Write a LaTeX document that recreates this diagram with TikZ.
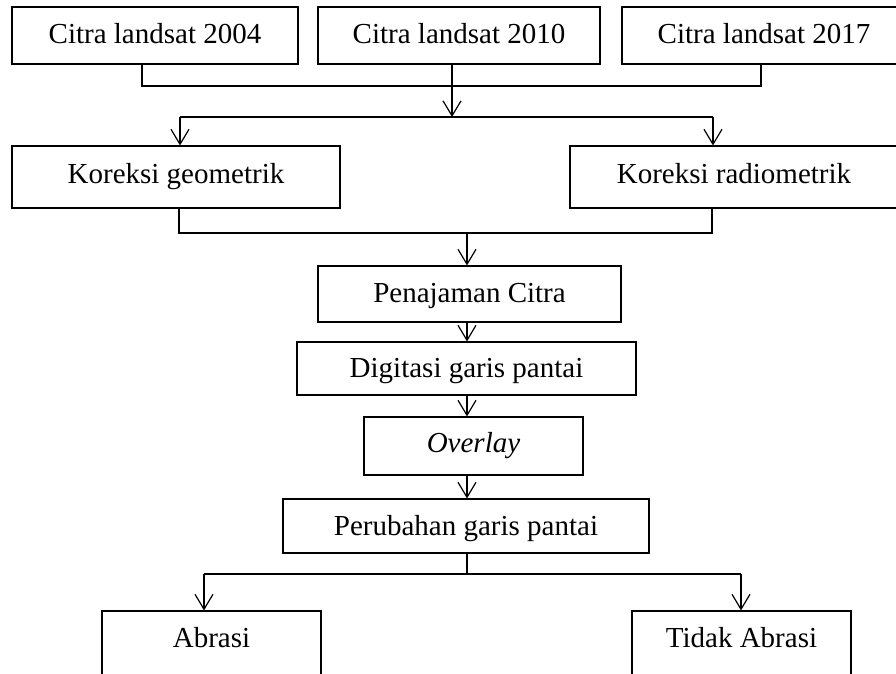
\documentclass[tikz,border=0pt]{standalone}
\usepackage{fontspec}
\setmainfont{Liberation Serif}
\usetikzlibrary{arrows.meta}
\begin{document}
\begin{tikzpicture}[x=1pt,y=-1pt,
  box/.style={draw, line width=1.1pt, inner xsep=0pt, inner ysep=0pt, anchor=base, align=center, font=\fontsize{29}{34}\selectfont},
  link/.style={line width=1.2pt},
  arr/.style={line width=1.2pt, -{Straight Barb[length=15pt,width=18pt]}}]
\path[use as bounding box, clip] (0,0) rectangle (896,673);
% top row
\node[box, minimum width=286pt, text height=36pt, text depth=21pt] (c04) at (155,43) {Citra landsat 2004};
\node[box, minimum width=282pt, text height=36pt, text depth=21pt] (c10) at (459,43) {Citra landsat 2010};
\node[box, minimum width=284pt, text height=36pt, text depth=21pt] (c17) at (764,43) {Citra landsat 2017};
% corrections
\node[box, minimum width=328pt, text height=37pt, text depth=25pt] (kg) at (176,183) {Koreksi geometrik};
\node[box, minimum width=328pt, text height=37pt, text depth=25pt] (kr) at (734,183) {Koreksi radiometrik};
% chain
\node[box, minimum width=303pt, text height=36pt, text depth=20pt] (pc) at (469.5,302) {Penajaman Citra};
\node[box, minimum width=339pt, text height=35pt, text depth=18pt] (dg) at (466.5,377) {Digitasi garis pantai};
\node[box, minimum width=219pt, text height=35pt, text depth=23pt] (ov) at (473.5,452) {\textit{Overlay}};
\node[box, minimum width=366pt, text height=36pt, text depth=18pt] (pg) at (466,535) {Perubahan garis pantai};
% results
\node[box, minimum width=219pt, text height=36pt, text depth=45pt] (ab) at (211.5,647) {Abrasi};
\node[box, minimum width=219pt, text height=36pt, text depth=45pt] (ta) at (741.5,647) {Tidak Abrasi};
% bus 1
\coordinate (b1l) at (142,86);
\coordinate (b1r) at (761,86);
\draw[link] (c04.south -| b1l) -- (b1l) -- (b1r) -- (c17.south -| b1r);
% bus 2
\coordinate (b2l) at (180,117);
\coordinate (b2r) at (713,117);
\coordinate (b2m) at (452,117);
\draw[arr] (c10.south -| b2m) -- (b2m);
\draw[link] (b2l) -- (b2r);
\draw[arr] (b2l) -- (kg.north -| b2l);
\draw[arr] (b2r) -- (kr.north -| b2r);
% bus 3
\coordinate (b3l) at (179,233);
\coordinate (b3r) at (712,233);
\coordinate (b3m) at (467,233);
\draw[link] (kg.south -| b3l) -- (b3l) -- (b3r) -- (kr.south -| b3r);
\draw[arr] (b3m) -- (pc.north -| b3m);
\draw[arr] (pc.south -| b3m) -- (dg.north -| b3m);
\draw[arr] (dg.south -| b3m) -- (ov.north -| b3m);
\draw[arr] (ov.south -| b3m) -- (pg.north -| b3m);
% bus 4
\coordinate (b4l) at (204,574);
\coordinate (b4r) at (741,574);
\coordinate (b4m) at (467,574);
\draw[link] (pg.south -| b4m) -- (b4m);
\draw[link] (b4l) -- (b4r);
\draw[arr] (b4l) -- (ab.north -| b4l);
\draw[arr] (b4r) -- (ta.north -| b4r);
\end{tikzpicture}
\end{document}
